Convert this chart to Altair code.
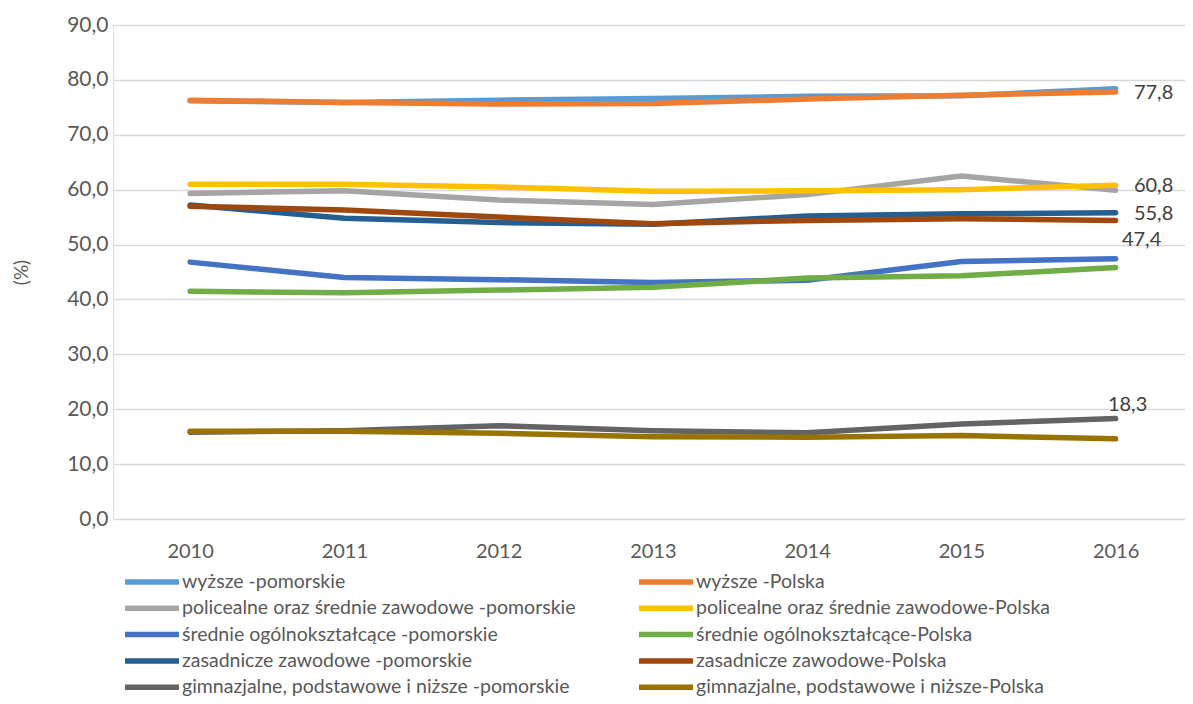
import altair as alt
import pandas as pd

years = [2010, 2011, 2012, 2013, 2014, 2015, 2016]

series = [
    "wyższe -pomorskie",
    "wyższe -Polska",
    "policealne oraz średnie zawodowe -pomorskie",
    "policealne oraz średnie zawodowe-Polska",
    "średnie ogólnokształcące -pomorskie",
    "średnie ogólnokształcące-Polska",
    "zasadnicze zawodowe -pomorskie",
    "zasadnicze zawodowe-Polska",
    "gimnazjalne, podstawowe i niższe -pomorskie",
    "gimnazjalne, podstawowe i niższe-Polska",
]

colors = ["#5B9BD5", "#ED7D31", "#A5A5A5", "#FFC000", "#4472C4",
          "#70AD47", "#255E91", "#9E480E", "#636363", "#997300"]

wyzsze_pom = [76.2, 75.9, 76.3, 76.6, 77.0, 77.1, 78.4]
wyzsze_pl = [76.3, 75.9, 75.6, 75.7, 76.5, 77.2, 77.8]
polic_pom = [59.3, 59.8, 58.1, 57.3, 59.1, 62.5, 59.9]
polic_pl = [61.0, 61.0, 60.5, 59.7, 59.8, 60.0, 60.8]
srednie_pom = [46.8, 44.0, 43.6, 43.1, 43.5, 46.9, 47.4]
srednie_pl = [41.5, 41.2, 41.7, 42.2, 43.9, 44.3, 45.8]
zasad_pom = [57.2, 54.8, 54.0, 53.7, 55.2, 55.6, 55.8]
zasad_pl = [57.0, 56.3, 55.0, 53.8, 54.4, 54.7, 54.4]
gimn_pom = [15.8, 16.1, 17.0, 16.1, 15.7, 17.3, 18.3]
gimn_pl = [16.0, 16.0, 15.6, 15.0, 14.9, 15.2, 14.6]

values = [wyzsze_pom, wyzsze_pl, polic_pom, polic_pl, srednie_pom,
          srednie_pl, zasad_pom, zasad_pl, gimn_pom, gimn_pl]

rows = []
for i, (s, vals) in enumerate(zip(series, values)):
    for y, v in zip(years, vals):
        rows.append({"rok": y, "seria": s, "wartosc": v, "kolejnosc": i})
df = pd.DataFrame(rows)

# legend is filled column by column: pomorskie series in column 1, Polska in column 2
legend_domain = series[0::2] + series[1::2]
legend_range = colors[0::2] + colors[1::2]

FONT = "Lato"
TXT = "#595959"

x_enc = alt.X("rok:Q", scale=alt.Scale(domain=[2009.5, 2016.45], nice=False, zero=False),
              axis=alt.Axis(values=years, format="d", title=None, grid=False, ticks=False,
                            domain=False, labelFontSize=20, labelColor=TXT, labelFont=FONT,
                            labelPadding=22))
y_enc = alt.Y("wartosc:Q", scale=alt.Scale(domain=[0, 90], nice=False),
              axis=alt.Axis(values=list(range(0, 100, 10)), title="(%)",
                            labelExpr="replace(format(datum.value, '.1f'), '.', ',')",
                            labelFontSize=21, labelColor=TXT, labelFont=FONT, labelPadding=5,
                            titleFontSize=19, titleColor=TXT, titleFont=FONT, titleFontWeight="normal",
                            titlePadding=35, ticks=False, domain=False,
                            gridColor="#D9D9D9", gridWidth=1.3))

lines = alt.Chart(df).mark_line(strokeWidth=5.5, strokeCap="round", strokeJoin="round").encode(
    x=x_enc,
    y=y_enc,
    color=alt.Color("seria:N", scale=alt.Scale(domain=legend_domain, range=legend_range),
                    legend=alt.Legend(orient="none", legendX=27, legendY=545, columns=2,
                                      title=None, symbolType="M-3,0H3", symbolSize=324,
                                      symbolStrokeWidth=5.5, labelFontSize=19.5, labelFont=FONT,
                                      labelColor=TXT, labelOffset=18, rowPadding=3.3,
                                      columnPadding=52, padding=0, labelLimit=600)),
    order="kolejnosc:Q",
    detail="seria:N",
)

label_fmt = "replace(format(datum.wartosc, '.1f'), '.', ',')"
last = df[df["rok"] == 2016]

def labels(names, dx, dy):
    d = last[last["seria"].isin(names)]
    return alt.Chart(d).mark_text(dx=dx, dy=dy, align="center", baseline="middle",
                                  fontSize=20, font=FONT, color="#404040").encode(
        x="rok:Q", y="wartosc:Q", text=alt.Text("lab:N")
    ).transform_calculate(lab=label_fmt)

lab_right = labels([series[1], series[3], series[6]], 38, 1)
lab_blue = labels([series[4]], 26, -19)
lab_gray = labels([series[8]], 12, -14)

chart = alt.layer(lines, lab_right, lab_blue, lab_gray).properties(
    width=1072, height=494,
    autosize=alt.AutoSizeParams(type="none"),
    padding={"left": 105, "top": 17, "right": 0, "bottom": 177},
).configure_view(stroke=None).configure(font=FONT)

chart.save("out.html", embed_options={"renderer": "svg", "actions": False})
